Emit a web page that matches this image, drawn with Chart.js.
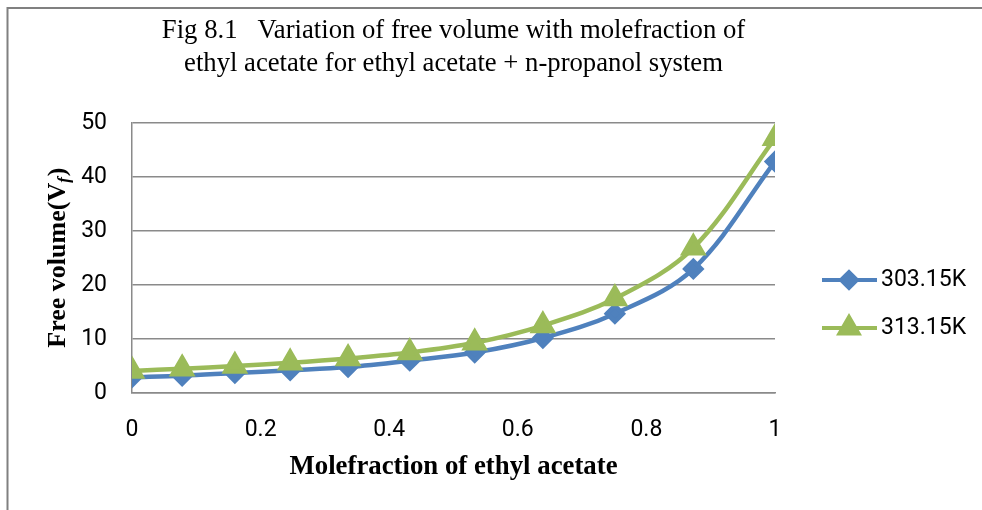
<!DOCTYPE html>
<html>
<head>
<meta charset="utf-8">
<script src="https://cdn.jsdelivr.net/npm/chart.js@4.4.1/dist/chart.umd.min.js"></script>
<style>
  html, body { margin: 0; padding: 0; background: #fff; }
  #wrap { width: 982px; height: 510px; position: relative; }
</style>
</head>
<body>
<div id="wrap"><canvas id="freeVolChart" width="982" height="510"></canvas></div>
<script>
// mole fraction of ethyl acetate (x) and free volume at the two temperatures
const moleFraction = [0, 0.078, 0.160, 0.246, 0.336, 0.432, 0.533, 0.639, 0.751, 0.873, 1.0];
const vf30315 = [2.9, 3.2, 3.7, 4.2, 4.8, 6.0, 7.5, 10.2, 14.7, 23.0, 42.9];
const vf31315 = [4.1, 4.5, 5.0, 5.6, 6.4, 7.5, 9.3, 12.5, 17.5, 26.9, 47.2];
const seriesNames = ['303.15K', '313.15K'];
const titleLines = ['Fig 8.1   Variation of free volume with molefraction of', 'ethyl acetate for ethyl acetate + n-propanol system'];
const xTitle = 'Molefraction of ethyl acetate';

const BLUE = '#4F81BD';
const GREEN = '#9BBB59';
const GRID = '#8a8a8a';

const toPoints = (ys) => moleFraction.map((x, i) => ({ x: x, y: ys[i] }));

// frame, y-axis title with subscript and the line+marker legend
const extras = {
  id: 'extras',
  beforeDraw(chart) {
    const ctx = chart.ctx;
    ctx.save();
    ctx.strokeStyle = '#808080';
    ctx.lineWidth = 2;
    ctx.beginPath();
    ctx.moveTo(7.5, 510);
    ctx.lineTo(7.5, 8);
    ctx.lineTo(982, 8);
    ctx.stroke();
    ctx.restore();
  },
  afterDraw(chart) {
    const ctx = chart.ctx;
    const area = chart.chartArea;
    // y title
    ctx.save();
    ctx.translate(58, (area.top + area.bottom) / 2);
    ctx.rotate(-Math.PI / 2);
    ctx.fillStyle = '#000';
    ctx.textBaseline = 'middle';
    const main = 'bold 26px "Liberation Serif", serif';
    const sub = 'bold italic 17px "Liberation Serif", serif';
    ctx.font = main;
    const a = 'Free volume(V', c = ')';
    const wa = ctx.measureText(a).width;
    const wc = ctx.measureText(c).width;
    ctx.font = sub;
    const wb = ctx.measureText('f').width;
    let x = -(wa + wb + wc) / 2;
    ctx.font = main;
    ctx.textAlign = 'left';
    ctx.fillText(a, x, 0);
    x += wa;
    ctx.font = sub;
    ctx.fillText('f', x, 7);
    x += wb + 1;
    ctx.font = main;
    ctx.fillText(c, x, 0);
    ctx.restore();

    // legend
    const items = [
      { name: seriesNames[0], color: BLUE, style: 'rectRot', r: 8, y: 280 },
      { name: seriesNames[1], color: GREEN, style: 'triangle', r: 11, y: 328 }
    ];
    items.forEach((it) => {
      ctx.save();
      ctx.strokeStyle = it.color;
      ctx.lineWidth = 4;
      ctx.beginPath();
      ctx.moveTo(822, it.y);
      ctx.lineTo(877, it.y);
      ctx.stroke();
      ctx.fillStyle = it.color;
      Chart.helpers.drawPoint(ctx, { pointStyle: it.style, radius: it.r, borderWidth: 1, rotation: 0 }, 849, it.y);
      ctx.fill();
      ctx.fillStyle = '#000';
      ctx.font = '23px Roboto, sans-serif';
      ctx.textBaseline = 'middle';
      ctx.textAlign = 'left';
      ctx.fillText(it.name, 881, it.y);
      ctx.restore();
    });
  }
};

new Chart(document.getElementById('freeVolChart'), {
  type: 'line',
  data: {
    datasets: [
      {
        label: seriesNames[0],
        data: toPoints(vf30315),
        borderColor: BLUE,
        backgroundColor: BLUE,
        pointBackgroundColor: BLUE,
        pointBorderColor: BLUE,
        pointStyle: 'rectRot',
        pointRadius: 8,
        borderWidth: 4.5,
        tension: 0.35,
        order: 2
      },
      {
        label: seriesNames[1],
        data: toPoints(vf31315),
        borderColor: GREEN,
        backgroundColor: GREEN,
        pointBackgroundColor: GREEN,
        pointBorderColor: GREEN,
        pointStyle: 'triangle',
        pointRadius: 11,
        borderWidth: 4.5,
        tension: 0.35,
        order: 1
      }
    ]
  },
  options: {
    responsive: false,
    animation: false,
    layout: { padding: { left: 0, right: 207, top: 0, bottom: 0 } },
    plugins: {
      legend: { display: false },
      tooltip: { enabled: false },
      title: {
        display: true,
        fullSize: false,
        text: titleLines,
        color: '#000',
        font: { family: '"Liberation Serif", serif', size: 26.7, weight: 'normal', lineHeight: 1.24 },
        padding: { top: 14, bottom: 43 }
      }
    },
    scales: {
      x: {
        type: 'linear',
        min: 0,
        max: 1,
        ticks: {
          stepSize: 0.2,
          padding: 23,
          color: '#000',
          font: { family: 'Roboto, sans-serif', size: 23 },
          maxRotation: 0,
          callback: (v) => String(+v.toFixed(1))
        },
        grid: { display: false, drawTicks: false },
        border: { display: true, color: GRID, width: 1.5 },
        title: {
          display: true,
          text: xTitle,
          color: '#000',
          font: { family: '"Liberation Serif", serif', size: 26.8, weight: 'bold', lineHeight: 1.2 },
          padding: { top: 0, bottom: 27 }
        },
        afterFit(scale) { scale.height = 117; }
      },
      y: {
        min: 0,
        max: 50,
        ticks: {
          stepSize: 10,
          padding: 25,
          color: '#000',
          font: { family: 'Roboto, sans-serif', size: 23 }
        },
        grid: { color: GRID, lineWidth: 1.5, drawTicks: false },
        border: { display: true, color: GRID, width: 1.5 },
        afterFit(scale) { scale.width = 132; }
      }
    }
  },
  plugins: [extras]
});
</script>
</body>
</html>
